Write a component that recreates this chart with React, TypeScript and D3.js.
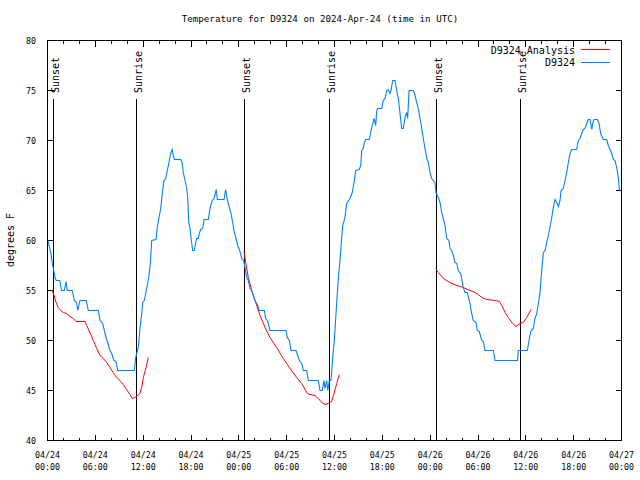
import React from "react";
import * as d3 from "d3";

// ---- Data (hours since 2024-04-24 00:00 UTC, degrees F) ----
const d9324: [number, number][] = [
  [0.03, 60.1], [0.19, 59.5], [0.44, 58.7], [0.6, 57.7], [0.73, 57.2], [0.85, 56.7], [0.98, 56.2], [1.1, 56.0],
  [1.53, 56.0], [1.76, 55.0], [2.11, 55.0], [2.32, 55.9], [2.48, 55.0], [3.11, 55.0], [3.24, 54.5], [3.36, 54.0],
  [3.66, 53.8], [3.79, 53.0], [4.08, 54.0], [4.87, 54.0], [5.12, 53.0], [6.37, 53.0], [6.59, 52.0], [6.92, 51.7],
  [7.13, 51.0], [7.34, 50.3], [7.55, 49.8], [7.84, 49.0], [8.05, 48.7], [8.34, 48.0], [8.59, 47.9], [8.81, 47.0],
  [10.89, 47.0], [11.06, 48.3], [11.29, 49.0], [11.39, 49.3], [11.6, 51.2], [11.82, 52.7], [11.94, 53.8], [12.14, 54.0],
  [12.32, 54.7], [12.52, 55.5], [12.73, 56.5], [12.9, 57.7], [13.07, 60.0], [13.61, 60.1], [13.77, 61.3], [13.99, 62.3],
  [14.2, 63.2], [14.4, 64.7], [14.61, 66.0], [14.83, 66.2], [15.03, 67.0], [15.24, 67.8], [15.45, 68.7], [15.65, 69.1],
  [15.78, 68.5], [15.91, 68.1], [16.71, 68.1], [16.91, 67.7], [17.03, 66.8], [17.25, 66.0], [17.46, 65.2], [17.59, 64.3],
  [17.71, 61.8], [17.88, 61.2], [18.0, 60.3], [18.13, 59.5], [18.21, 59.0], [18.41, 59.0], [18.59, 59.8], [18.72, 60.2],
  [18.92, 60.2], [19.04, 60.7], [19.22, 61.1], [19.47, 61.2], [19.63, 62.1], [20.17, 62.1], [20.3, 62.8], [20.47, 63.5],
  [20.67, 64.0], [20.89, 64.2], [21.05, 64.7], [21.17, 65.1], [21.3, 64.1], [22.14, 64.1], [22.35, 65.1], [22.55, 64.1],
  [22.81, 63.3], [23.02, 62.7], [23.23, 61.8], [23.43, 60.8], [23.65, 60.2], [23.86, 59.5], [24.11, 59.0], [24.36, 58.2],
  [24.61, 58.0], [24.77, 57.3], [24.99, 56.3], [25.19, 56.0], [25.4, 55.2], [25.62, 55.0], [25.82, 54.5], [26.03, 54.0],
  [26.37, 53.5], [26.53, 53.0], [27.2, 53.0], [27.37, 52.2], [27.57, 52.0], [27.7, 51.7], [27.91, 51.0], [29.92, 51.0],
  [30.08, 50.3], [30.33, 50.0], [30.55, 49.0], [31.17, 49.0], [31.39, 48.5], [31.59, 48.0], [31.89, 47.7], [32.09, 47.0],
  [32.51, 47.0], [32.72, 46.0], [33.97, 46.0], [34.18, 45.0], [34.47, 45.0], [34.68, 46.0], [34.81, 45.2], [35.02, 46.0],
  [35.15, 45.0], [35.35, 46.0], [35.56, 46.0], [35.78, 48.3], [35.98, 50.0], [36.19, 52.7], [36.35, 54.7], [36.53, 56.7],
  [36.69, 58.0], [36.85, 59.7], [37.03, 61.5], [37.32, 62.3], [37.53, 63.7], [37.95, 64.2], [38.23, 64.8], [38.45, 65.8],
  [38.66, 67.0], [39.11, 67.1], [39.29, 67.5], [39.41, 69.0], [39.61, 69.2], [39.74, 69.8], [39.95, 70.1], [40.37, 70.1],
  [40.54, 70.8], [40.74, 71.5], [40.96, 72.2], [41.17, 71.5], [41.3, 73.0], [41.42, 73.2], [41.92, 73.2], [42.12, 74.0],
  [42.34, 74.2], [42.55, 75.0], [42.75, 75.1], [42.96, 74.7], [43.09, 75.0], [43.3, 76.0], [43.59, 76.0], [43.8, 75.0],
  [44.01, 74.2], [44.22, 72.7], [44.43, 71.2], [44.63, 71.2], [44.84, 72.3], [45.06, 72.8], [45.18, 72.2], [45.35, 75.0],
  [45.89, 75.0], [46.1, 74.5], [46.31, 73.8], [46.51, 73.2], [46.73, 72.2], [46.94, 71.2], [47.14, 70.2], [47.35, 69.2],
  [47.57, 68.2], [47.77, 67.8], [47.98, 66.8], [48.19, 66.2], [48.61, 65.8], [48.73, 64.8], [49.02, 64.3], [49.24, 63.8],
  [49.45, 62.8], [49.65, 62.2], [49.86, 61.5], [50.08, 60.2], [50.36, 60.0], [50.49, 59.2], [50.7, 59.0], [50.91, 58.5],
  [51.12, 57.8], [51.33, 57.7], [51.53, 57.0], [51.83, 56.7], [52.16, 55.3], [52.37, 54.8], [52.66, 54.8], [53.0, 53.7],
  [53.21, 52.7], [53.41, 52.0], [53.75, 51.8], [53.91, 51.0], [54.16, 50.9], [54.47, 50.0], [54.67, 49.9], [54.88, 49.0],
  [55.92, 49.0], [56.14, 48.0], [58.96, 48.0], [59.06, 49.0], [60.19, 49.0], [60.44, 50.2], [60.65, 51.0], [60.94, 51.2],
  [61.15, 52.2], [61.37, 52.7], [61.57, 53.7], [61.78, 54.8], [61.91, 56.2], [62.07, 57.7], [62.2, 58.8], [62.41, 59.0],
  [62.62, 59.8], [62.82, 60.5], [63.03, 61.3], [63.25, 62.3], [63.45, 63.3], [63.66, 64.1], [63.88, 63.8], [64.08, 63.4],
  [64.29, 64.0], [64.42, 65.0], [64.7, 65.2], [64.92, 66.0], [65.13, 66.8], [65.33, 67.8], [65.54, 68.7], [65.76, 69.1],
  [66.38, 69.1], [66.58, 70.0], [66.8, 70.2], [67.01, 70.7], [67.21, 71.1], [67.43, 71.2], [67.64, 71.7], [67.84, 72.1],
  [68.05, 72.1], [68.27, 71.1], [68.39, 71.7], [68.55, 72.1], [68.97, 72.1], [69.18, 71.7], [69.39, 70.7], [69.72, 70.1],
  [70.15, 70.1], [70.35, 69.5], [70.56, 69.1], [70.77, 68.7], [70.97, 68.1], [71.19, 68.0], [71.4, 67.3], [71.6, 66.3],
  [71.73, 65.1], [71.81, 65.0],
];

const analysisRun1: [number, number][] = [
  [0.6, 55.0], [0.82, 54.5], [1.07, 53.8], [1.35, 53.3], [1.66, 53.0], [1.98, 52.8], [2.41, 52.7], [2.82, 52.4],
  [3.24, 52.2], [3.58, 51.9], [4.7, 51.9], [4.92, 51.5], [5.33, 50.8], [5.75, 50.0], [6.17, 49.2], [6.59, 48.5],
  [7.0, 48.2], [7.43, 47.8], [7.84, 47.3], [8.25, 46.8], [8.68, 46.3], [9.09, 46.0], [9.51, 45.6], [9.93, 45.1],
  [10.35, 44.6], [10.64, 44.2], [10.98, 44.3], [11.6, 44.7], [11.82, 45.3], [12.02, 46.3], [12.36, 47.3], [12.64, 48.3],
];
const analysisRun2: [number, number][] = [
  [24.65, 58.9], [24.86, 57.8], [25.19, 56.3], [25.62, 55.0], [26.03, 54.0], [26.66, 52.5], [27.29, 51.3], [27.91, 50.3],
  [28.75, 49.3], [29.58, 48.2], [30.42, 47.2], [31.26, 46.3], [31.89, 45.7], [32.59, 44.7], [32.93, 44.6], [33.56, 44.5],
  [33.97, 44.2], [34.4, 43.8], [34.81, 43.6], [35.22, 43.7], [35.65, 43.9], [35.94, 44.7], [36.28, 45.7], [36.6, 46.6],
];
const analysisRun3: [number, number][] = [
  [48.7, 57.2], [49.02, 56.8], [49.45, 56.4], [49.86, 56.1], [50.49, 55.8], [51.33, 55.5], [52.16, 55.3], [53.0, 55.0],
  [53.63, 54.8], [54.04, 54.6], [54.47, 54.3], [55.09, 54.1], [56.14, 54.0], [56.68, 53.9], [56.98, 53.5], [57.39, 52.8],
  [57.8, 52.3], [58.35, 51.7], [58.77, 51.4], [59.27, 51.7], [59.68, 51.8], [60.11, 52.3], [60.65, 53.1],
];

const sunEventLabels = ["Sunset", "Sunrise", "Sunset", "Sunrise", "Sunset", "Sunrise"];
const sunEventHours = [0.63, 11.16, 24.71, 35.25, 48.67, 59.21];

const yTickValues = [40, 45, 50, 55, 60, 65, 70, 75, 80];
const xMajorTickHours = [0, 6, 12, 18, 24, 30, 36, 42, 48, 54, 60, 66, 72];
const xMinorTickHours = d3.range(0, 73, 2);
const legendLabels = ["D9324 Analysis", "D9324"];
const title = "Temperature for D9324 on 2024-Apr-24 (time in UTC)";
const yAxisTitle = "degrees F";

const RED = "#ff0000";
const BLUE = "#0080ff";
const FONT = "'DejaVu Sans Mono', 'Liberation Mono', monospace";

export default function App() {
  const W = 640, H = 480;
  const x = d3.scaleLinear().domain([0, 72]).range([47.5, 621.5]);
  const y = d3.scaleLinear().domain([40, 80]).range([440.5, 40.5]);
  const line = d3.line<[number, number]>().x((d) => x(d[0])).y((d) => y(d[1]));

  const fmtDay = (h: number) => `04/${String(24 + Math.floor(h / 24)).padStart(2, "0")}`;
  const fmtTime = (h: number) => `${String(h % 24).padStart(2, "0")}:00`;

  const [x0, x1] = x.range();
  const [yb, yt] = y.range();

  return (
    <div style={{ position: "absolute", left: 0, top: 0 }}>
      <svg width={W} height={H} style={{ display: "block", background: "#fff" }}>
        <rect x={0} y={0} width={W} height={H} fill="#fff" />
        {/* title */}
        <text x={320} y={22} textAnchor="middle" fontFamily={FONT} fontSize={9.2} fill="#000">
          {title}
        </text>
        {/* y axis title */}
        <text
          transform={`translate(14,240) rotate(-90)`}
          textAnchor="middle"
          fontFamily={FONT}
          fontSize={10}
          fill="#000"
        >
          {yAxisTitle}
        </text>

        {/* y ticks */}
        <g shapeRendering="crispEdges" stroke="#000" strokeWidth={1}>
          {yTickValues.map((v) => (
            <g key={v}>
              <line x1={x0} x2={x0 + 6} y1={y(v)} y2={y(v)} />
              <line x1={x1} x2={x1 - 6} y1={y(v)} y2={y(v)} />
            </g>
          ))}
          {xMinorTickHours.map((h) => {
            const major = h % 6 === 0;
            const len = major ? 6 : 3;
            return (
              <g key={h}>
                <line x1={x(h)} x2={x(h)} y1={yb} y2={yb - len} />
                <line x1={x(h)} x2={x(h)} y1={yt} y2={yt + len} />
              </g>
            );
          })}
        </g>
        {yTickValues.map((v) => (
          <text
            key={v}
            x={36}
            y={y(v) + 3}
            textAnchor="end"
            fontFamily={FONT}
            fontSize={8.3}
            fill="#000"
          >
            {v}
          </text>
        ))}
        {xMajorTickHours.map((h) => (
          <text key={h} x={x(h)} textAnchor="middle" fontFamily={FONT} fontSize={8.3} fill="#000">
            <tspan x={x(h)} y={458}>{fmtDay(h)}</tspan>
            <tspan x={x(h)} y={470}>{fmtTime(h)}</tspan>
          </text>
        ))}

        {/* sunrise / sunset markers */}
        {sunEventHours.map((h, i) => (
          <g key={i}>
            <line
              x1={Math.round(x(h)) + 0.5}
              x2={Math.round(x(h)) + 0.5}
              y1={99}
              y2={yb}
              stroke="#000"
              strokeWidth={1}
              shapeRendering="crispEdges"
            />
            <text
              transform={`translate(${Math.round(x(h)) + 6},93) rotate(-90)`}
              textAnchor="start"
              fontFamily={FONT}
              fontSize={10}
              fill="#000"
            >
              {sunEventLabels[i]}
            </text>
          </g>
        ))}

        {/* data */}
        {[analysisRun1, analysisRun2, analysisRun3].map((run, i) => (
          <path key={i} d={line(run) ?? ""} fill="none" stroke={RED} strokeWidth={1} />
        ))}
        <path d={line(d9324) ?? ""} fill="none" stroke={BLUE} strokeWidth={1.1} />

        {/* frame */}
        <rect
          x={x0}
          y={yt}
          width={x1 - x0}
          height={yb - yt}
          fill="none"
          stroke="#000"
          strokeWidth={1}
          shapeRendering="crispEdges"
        />

        {/* legend */}
        {legendLabels.map((lab, i) => (
          <g key={lab}>
            <text
              x={575}
              y={53.5 + i * 12.7}
              textAnchor="end"
              fontFamily={FONT}
              fontSize={10}
              fill="#000"
            >
              {lab}
            </text>
            <line
              x1={581}
              x2={610}
              y1={49.5 + i * 12.7}
              y2={49.5 + i * 12.7}
              stroke={i === 0 ? RED : BLUE}
              strokeWidth={1}
              shapeRendering="crispEdges"
            />
          </g>
        ))}
      </svg>
    </div>
  );
}
